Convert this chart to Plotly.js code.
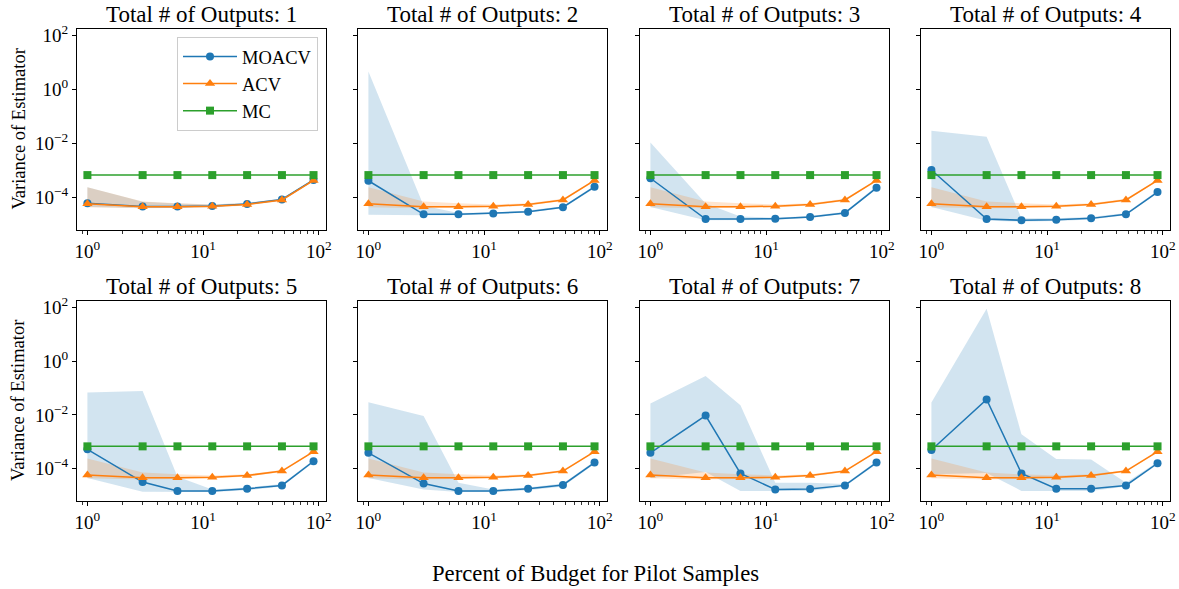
<!DOCTYPE html>
<html>
<head>
<meta charset="utf-8">
<script src="https://cdn.plot.ly/plotly-3.0.1.min.js"></script>
<style>html,body{margin:0;padding:0;background:#fff;}#chart{width:1179px;height:589px;}</style>
</head>
<body>
<div id="chart"></div>
<script>
// ---- data ----
const pilotPercent = [1, 3, 6, 12, 24, 48, 90];
const outputCounts = [1, 2, 3, 4, 5, 6, 7, 8];
const seriesNames = ['MOACV', 'ACV', 'MC'];

const mcVariance = [6.8e-4, 6.8e-4, 6.8e-4, 6.8e-4, 6.8e-4, 6.8e-4, 6.8e-4];

const acvMean  = [5.9e-5, 4.6e-5, 4.6e-5, 4.8e-5, 5.6e-5, 8.2e-5, 4.3e-4];
const acvUpper = [2.4e-4, 7.2e-5, 6.2e-5, 5.6e-5, 6.2e-5, 9.0e-5, 4.7e-4];
const acvLower = [4.4e-5, 4.0e-5, 4.1e-5, 4.3e-5, 5.1e-5, 7.5e-5, 4.0e-4];

const moacvMean = [
  [6.2e-5, 4.7e-5, 4.7e-5, 4.9e-5, 5.8e-5, 8.5e-5, 4.5e-4],
  [4.2e-4, 2.4e-5, 2.4e-5, 2.6e-5, 3.0e-5, 4.4e-5, 2.5e-4],
  [5.2e-4, 1.6e-5, 1.6e-5, 1.65e-5, 1.9e-5, 2.7e-5, 2.3e-4],
  [1.05e-3, 1.6e-5, 1.45e-5, 1.5e-5, 1.7e-5, 2.4e-5, 1.6e-4],
  [5.3e-4, 3.2e-5, 1.5e-5, 1.5e-5, 1.8e-5, 2.4e-5, 1.9e-4],
  [3.9e-4, 2.8e-5, 1.5e-5, 1.5e-5, 1.8e-5, 2.5e-5, 1.7e-4],
  [3.9e-4, 9.5e-3, 6.7e-5, 1.7e-5, 1.75e-5, 2.4e-5, 1.7e-4],
  [5.0e-4, 3.8e-2, 6.7e-5, 1.8e-5, 1.8e-5, 2.4e-5, 1.6e-4]
];
const moacvUpper = [
  [2.4e-4, 7.0e-5, 6.0e-5, 5.6e-5, 6.4e-5, 9.3e-5, 4.9e-4],
  [4.6, 5.0e-5, 2.7e-5, 2.8e-5, 3.3e-5, 4.8e-5, 2.8e-4],
  [1.1e-2, 6.0e-5, 2.0e-5, 1.8e-5, 2.1e-5, 3.0e-5, 2.6e-4],
  [3.0e-2, 1.8e-2, 1.7e-5, 1.7e-5, 1.9e-5, 2.7e-5, 1.8e-4],
  [6.8e-2, 7.8e-2, 5.0e-5, 1.7e-5, 2.0e-5, 2.7e-5, 2.1e-4],
  [3.0e-2, 9.1e-3, 3.0e-5, 1.7e-5, 2.0e-5, 2.8e-5, 1.9e-4],
  [2.7e-2, 0.28, 2.3e-2, 3.0e-5, 3.0e-5, 2.7e-5, 1.9e-4],
  [2.9e-2, 89, 1.9e-3, 2.3e-4, 2.2e-4, 3.0e-5, 1.8e-4]
];
const moacvLower = [
  [4.5e-5, 4.1e-5, 4.2e-5, 4.4e-5, 5.3e-5, 7.8e-5, 4.2e-4],
  [2.3e-5, 2.2e-5, 2.2e-5, 2.4e-5, 2.8e-5, 4.0e-5, 2.2e-4],
  [4.5e-5, 1.45e-5, 1.45e-5, 1.5e-5, 1.75e-5, 2.5e-5, 2.1e-4],
  [4.5e-5, 1.4e-5, 1.3e-5, 1.35e-5, 1.55e-5, 2.2e-5, 1.45e-4],
  [4.5e-5, 1.4e-5, 1.35e-5, 1.35e-5, 1.6e-5, 2.2e-5, 1.7e-4],
  [4.5e-5, 1.7e-5, 1.35e-5, 1.35e-5, 1.6e-5, 2.2e-5, 1.5e-4],
  [4.5e-5, 7.5e-5, 1.5e-5, 1.5e-5, 1.5e-5, 2.2e-5, 1.5e-4],
  [6.3e-5, 7.0e-5, 1.5e-5, 1.5e-5, 1.5e-5, 2.2e-5, 1.45e-4]
];

const yTickVals = [1e-4, 1e-2, 1, 100];
const yTickText = ['10<sup>−4</sup>', '10<sup>−2</sup>', '10<sup>0</sup>', '10<sup>2</sup>'];
const xTickVals = [1, 10, 100];
const xTickText = ['10<sup>0</sup>', '10<sup>1</sup>', '10<sup>2</sup>'];
const xMinorVals = [0.9, 2, 3, 4, 5, 6, 7, 8, 9, 20, 30, 40, 50, 60, 70, 80, 90];

// ---- styling ----
const FONT = 'Liberation Serif, Times New Roman, serif';
const C_BLUE = '#1f77b4', C_ORANGE = '#ff7f0e', C_GREEN = '#2ca02c';
const W = 1179, H = 589;
const colPx = [[77, 326], [358, 607], [640, 889], [921, 1170]];
const rowPx = [[29, 230], [301, 501]];

const traces = [];
const layout = {
  width: W, height: H,
  margin: {l: 0, r: 0, t: 0, b: 0},
  paper_bgcolor: '#fff', plot_bgcolor: '#fff',
  font: {family: FONT, color: '#000', size: 19},
  showlegend: true,
  legend: {
    x: 177 / W, y: 1 - 37 / H, xanchor: 'left', yanchor: 'top',
    bgcolor: 'rgba(255,255,255,0.85)', bordercolor: '#cccccc', borderwidth: 1,
    font: {family: FONT, size: 18.5, color: '#000'},
    itemwidth: 54, tracegroupgap: 0
  },
  annotations: []
};

function band(xs, lo, hi) {
  return {
    x: xs.concat(xs.slice().reverse()),
    y: hi.concat(lo.slice().reverse())
  };
}

outputCounts.forEach((n, i) => {
  const row = Math.floor(i / 4), col = i % 4;
  const k = i + 1;
  const xa = k === 1 ? 'x' : 'x' + k;
  const ya = k === 1 ? 'y' : 'y' + k;
  const xKey = k === 1 ? 'xaxis' : 'xaxis' + k;
  const yKey = k === 1 ? 'yaxis' : 'yaxis' + k;

  const mb = band(pilotPercent, moacvLower[i], moacvUpper[i]);
  traces.push({x: mb.x, y: mb.y, xaxis: xa, yaxis: ya, mode: 'lines', fill: 'toself',
    fillcolor: 'rgba(31,119,180,0.2)', line: {width: 0, color: 'rgba(0,0,0,0)'},
    showlegend: false, hoverinfo: 'skip'});
  const ab = band(pilotPercent, acvLower, acvUpper);
  traces.push({x: ab.x, y: ab.y, xaxis: xa, yaxis: ya, mode: 'lines', fill: 'toself',
    fillcolor: 'rgba(255,127,14,0.2)', line: {width: 0, color: 'rgba(0,0,0,0)'},
    showlegend: false, hoverinfo: 'skip'});

  traces.push({x: pilotPercent, y: moacvMean[i], xaxis: xa, yaxis: ya, mode: 'lines+markers',
    name: seriesNames[0], legendgroup: 'm', showlegend: i === 0,
    line: {color: C_BLUE, width: 1.5}, marker: {symbol: 'circle', size: 8, color: C_BLUE}});
  traces.push({x: pilotPercent, y: acvMean, xaxis: xa, yaxis: ya, mode: 'lines+markers',
    name: seriesNames[1], legendgroup: 'a', showlegend: i === 0,
    line: {color: C_ORANGE, width: 1.5}, marker: {symbol: 'triangle-up', size: 9, color: C_ORANGE}});
  traces.push({x: pilotPercent, y: mcVariance, xaxis: xa, yaxis: ya, mode: 'lines+markers',
    name: seriesNames[2], legendgroup: 'c', showlegend: i === 0,
    line: {color: C_GREEN, width: 1.5}, marker: {symbol: 'square', size: 8, color: C_GREEN}});

  const cx = colPx[col], ry = rowPx[row];
  layout[xKey] = {
    domain: [cx[0] / W, cx[1] / W], anchor: ya, type: 'log', range: [-0.09, 2.062],
    showgrid: false, zeroline: false, showline: true, mirror: true, linecolor: '#000', linewidth: 1,
    ticks: 'outside', ticklen: 4, tickwidth: 1, tickcolor: '#000',
    tickmode: 'array', tickvals: xTickVals, ticktext: xTickText,
    tickfont: {family: FONT, size: 19, color: '#000'},
    minor: {tickmode: 'array', tickvals: xMinorVals, ticks: 'outside', ticklen: 2.5, tickwidth: 0.8, tickcolor: '#000', showgrid: false}
  };
  layout[yKey] = {
    domain: [1 - ry[1] / H, 1 - ry[0] / H], anchor: xa, type: 'log', range: [-5.2, 2.24],
    showgrid: false, zeroline: false, showline: true, mirror: true, linecolor: '#000', linewidth: 1,
    ticks: 'outside', ticklen: 4, tickwidth: 1, tickcolor: '#000',
    tickmode: 'array', tickvals: yTickVals, ticktext: yTickText, showticklabels: col === 0,
    tickfont: {family: FONT, size: 19, color: '#000'}
  };

  layout.annotations.push({
    text: 'Total # of Outputs: ' + n, xref: 'paper', yref: 'paper',
    x: (cx[0] + cx[1]) / 2 / W, y: 1 - ry[0] / H, xanchor: 'center', yanchor: 'bottom',
    yshift: 0, showarrow: false, font: {family: FONT, size: 23, color: '#000'}
  });
  if (col === 0) {
    layout.annotations.push({
      text: 'Variance of Estimator', xref: 'paper', yref: 'paper',
      x: 18 / W, y: 1 - (ry[0] + ry[1]) / 2 / H, xanchor: 'center', yanchor: 'middle',
      textangle: -90, showarrow: false, font: {family: FONT, size: 18.5, color: '#000'}
    });
  }
});

layout.annotations.push({
  text: 'Percent of Budget for Pilot Samples', xref: 'paper', yref: 'paper',
  x: 595 / W, y: 1 - 573 / H, xanchor: 'center', yanchor: 'middle',
  showarrow: false, font: {family: FONT, size: 22.7, color: '#000'}
});

Plotly.newPlot('chart', traces, layout, {displayModeBar: false, staticPlot: true});
</script>
</body>
</html>
